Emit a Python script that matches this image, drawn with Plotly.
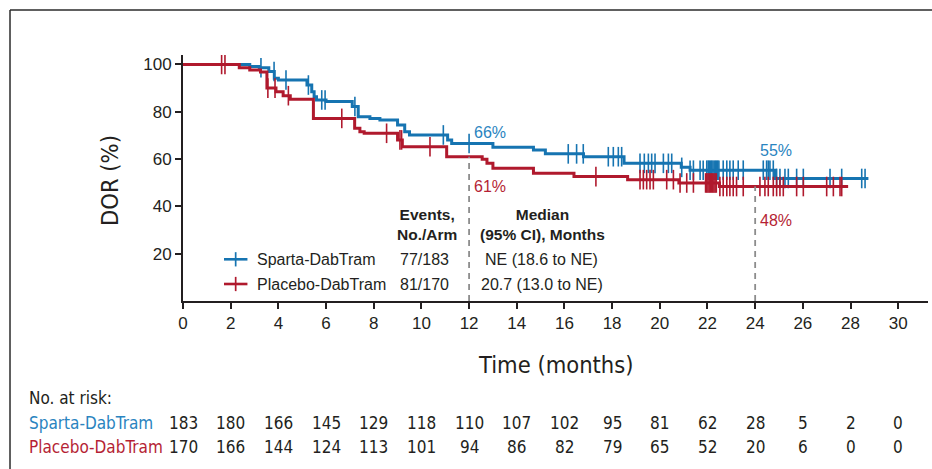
import plotly.graph_objects as go

# ---------------- data ----------------
BLUE_T = [0, 2.8, 3.2, 3.6, 3.83, 4.0, 5.2, 5.4, 5.5, 5.6, 6.0, 7.1, 7.35, 7.84, 8.26,
          9.0, 9.3, 9.5, 11.1, 11.27, 13.0, 14.7, 15.2, 16.8, 18.5, 20.9, 21.27, 24.85]
BLUE_S = [100, 99.1, 98.6, 97.0, 94.2, 93.4, 91.3, 88.5, 86.4, 85.0, 84.3, 82.2, 77.9, 77.2, 76.5,
          74.4, 71.6, 70.2, 68.1, 66.6, 65.0, 63.8, 62.2, 61.0, 58.2, 56.5, 55.3, 51.8]
BLUE_END = 28.75

RED_T = [0, 2.36, 2.8, 3.25, 3.52, 3.9, 4.2, 4.5, 5.47, 7.2, 7.42, 7.6, 9.0, 9.2, 11.06,
         12.55, 12.75, 13.0, 14.7, 16.4, 18.65, 20.8, 22.5]
RED_S = [100, 98.6, 97.7, 96.8, 90.0, 88.5, 86.8, 85.3, 77.2, 73.0, 71.6, 70.9, 68.1, 65.2, 61.0,
         59.9, 58.2, 56.1, 54.0, 52.6, 51.3, 49.9, 48.4]
RED_END = 27.9

BLUE_CENSOR = [3.27, 3.82, 4.32, 5.26, 5.82, 5.96, 7.21, 10.92, 12.0, 16.16, 16.51, 16.79, 17.84,
               18.05, 18.26, 18.40, 19.17, 19.35, 19.52, 19.66, 19.80, 20.15, 20.36, 20.50, 20.92,
               21.27, 21.41, 21.69, 21.82, 21.97, 22.03, 22.08, 22.13, 22.18, 22.23, 22.28, 22.33,
               22.38, 22.43, 22.48, 22.66, 22.81, 22.94, 23.08, 23.29, 23.50, 24.34, 24.48, 24.55,
               24.62, 24.76, 24.90, 25.04, 25.25, 25.39, 25.74, 26.02, 27.14, 27.63, 28.47, 28.61]
RED_CENSOR = [1.62, 1.76, 3.56, 3.86, 4.42, 6.66, 8.54, 9.10, 9.17, 10.36, 17.32, 19.17, 19.31,
              19.45, 19.59, 19.73, 20.29, 20.57, 20.85, 21.13, 21.41, 21.92, 21.97, 22.02, 22.07,
              22.12, 22.17, 22.22, 22.27, 22.32, 22.37, 22.52, 22.66, 22.81, 22.94, 23.08, 23.22,
              23.50, 24.20, 24.41, 24.55, 24.76, 24.90, 25.04, 25.18, 25.74, 26.02, 27.0, 27.28,
              27.56, 27.63]

ARMS = ["Sparta-DabTram", "Placebo-DabTram"]
EVENTS = ["77/183", "81/170"]
MEDIANS = ["NE (18.6 to NE)", "20.7 (13.0 to NE)"]
LANDMARKS = [12, 24]

RISK_TIMES = list(range(0, 31, 2))
RISK_BLUE = [183, 180, 166, 145, 129, 118, 110, 107, 102, 95, 81, 62, 28, 5, 2, 0]
RISK_RED = [170, 166, 144, 124, 113, 101, 94, 86, 82, 79, 65, 52, 20, 6, 0, 0]

X_TICKS = list(range(0, 31, 2))
Y_TICKS = [20, 40, 60, 80, 100]

# ---------------- style ----------------
BLUE = "#1674b1"
RED = "#b0192d"
BLUE_TXT = "#2a84c0"
RED_TXT = "#b51f35"
DARK = "#231f20"
GRAY = "#8c8c8c"
FONT = "Liberation Sans, Arial, Helvetica, sans-serif"
NARROW = "Liberation Sans Narrow, Arial Narrow, DejaVu Sans Condensed, sans-serif"


def step_at(ts, ss, t):
    v = ss[0]
    for ti, si in zip(ts, ss):
        if t >= ti:
            v = si
    return v


fig = go.Figure()

for ts, ss, end, cens, col in [(BLUE_T, BLUE_S, BLUE_END, BLUE_CENSOR, BLUE),
                               (RED_T, RED_S, RED_END, RED_CENSOR, RED)]:
    fig.add_trace(go.Scatter(x=ts + [end], y=ss + [ss[-1]], mode="lines",
                             line=dict(color=col, width=3, shape="hv"),
                             hoverinfo="skip"))
    fig.add_trace(go.Scatter(x=cens, y=[step_at(ts, ss, c) for c in cens], mode="markers",
                             marker=dict(symbol="line-ns", size=14,
                                         line=dict(color=col, width=1.6)),
                             hoverinfo="skip"))

# landmark dashed lines (from the lower curve down to the axis)
for lm in LANDMARKS:
    top = min(step_at(BLUE_T, BLUE_S, lm), step_at(RED_T, RED_S, lm))
    fig.add_trace(go.Scatter(x=[lm, lm], y=[0, top], mode="lines",
                             line=dict(color=GRAY, width=1.8, dash="6px,5px"),
                             hoverinfo="skip"))

annotations = []
# landmark percentage labels
for lm, bdy, rdy in [(12, 4.5, -12.5), (24, 8.5, -14.5)]:
    b = step_at(BLUE_T, BLUE_S, lm)
    r = step_at(RED_T, RED_S, lm)
    annotations.append(dict(x=lm + 0.12, y=b + bdy, xref="x", yref="y", text=f"{int(b)}%",
                            showarrow=False, xanchor="left", yanchor="middle",
                            font=dict(family=FONT, size=16, color=BLUE_TXT)))
    annotations.append(dict(x=lm + 0.12, y=r + rdy, xref="x", yref="y", text=f"{int(r)}%",
                            showarrow=False, xanchor="left", yanchor="middle",
                            font=dict(family=FONT, size=16, color=RED_TXT)))

# in-plot legend table
annotations.append(dict(x=0.327, y=0.313, xref="paper", yref="paper",
                        text="<b>Events,</b><br><b>No./Arm</b>", showarrow=False,
                        xanchor="center", yanchor="middle", align="center",
                        font=dict(family=FONT, size=15.5, color=DARK)))
annotations.append(dict(x=0.482, y=0.313, xref="paper", yref="paper",
                        text="<b>Median</b><br><b>(95% CI), Months</b>", showarrow=False,
                        xanchor="center", yanchor="middle", align="center",
                        font=dict(family=FONT, size=15.5, color=DARK)))
shapes = []
row_y = [0.1695, 0.0691]
for arm, ev, med, yy, col in zip(ARMS, EVENTS, MEDIANS, row_y, [BLUE, RED]):
    annotations.append(dict(x=0.0966, y=yy, xref="paper", yref="paper", text=arm,
                            showarrow=False, xanchor="left", yanchor="middle",
                            font=dict(family=FONT, size=16, color=DARK)))
    annotations.append(dict(x=0.3248, y=yy, xref="paper", yref="paper", text=ev,
                            showarrow=False, xanchor="center", yanchor="middle",
                            font=dict(family=FONT, size=16, color=DARK)))
    annotations.append(dict(x=0.4815, y=yy, xref="paper", yref="paper", text=med,
                            showarrow=False, xanchor="center", yanchor="middle",
                            font=dict(family=FONT, size=16, color=DARK)))
    shapes.append(dict(type="line", xref="paper", yref="paper", x0=0.055, x1=0.0865,
                       y0=yy, y1=yy, line=dict(color=col, width=2.6)))
    shapes.append(dict(type="line", xref="paper", yref="paper", x0=0.0707, x1=0.0707,
                       y0=yy - 0.029, y1=yy + 0.029, line=dict(color=col, width=1.7)))

# axis titles
annotations.append(dict(x=0.5, y=-0.262, xref="paper", yref="paper", text="Time (months)",
                        showarrow=False, xanchor="center", yanchor="middle",
                        font=dict(family=NARROW, size=23.5, color=DARK)))
annotations.append(dict(x=-0.098, y=0.492, xref="paper", yref="paper", text="DOR (%)",
                        showarrow=False, xanchor="center", yanchor="middle", textangle=-90,
                        font=dict(family=NARROW, size=23.5, color=DARK)))

# risk table
annotations.append(dict(x=-0.2094, y=-0.394, xref="paper", yref="paper", text="No. at risk:",
                        showarrow=False, xanchor="left", yanchor="middle",
                        font=dict(family=NARROW, size=17, color=DARK)))
for arm, vals, yy, col in [(ARMS[0], RISK_BLUE, -0.4947, BLUE_TXT),
                           (ARMS[1], RISK_RED, -0.5947, RED_TXT)]:
    annotations.append(dict(x=-0.2094, y=yy, xref="paper", yref="paper", text=arm,
                            showarrow=False, xanchor="left", yanchor="middle",
                            font=dict(family=NARROW, size=17, color=col)))
    for t, v in zip(RISK_TIMES, vals):
        annotations.append(dict(x=t, y=yy, xref="x", yref="paper", text=str(v),
                                showarrow=False, xanchor="center", yanchor="middle",
                                font=dict(family=NARROW, size=17, color=DARK)))

# outer frame (top and left)
shapes.append(dict(type="line", xref="paper", yref="paper", x0=-0.2322, x1=1.1,
                   y0=1.183, y1=1.183, line=dict(color="#2b2b2b", width=1.5)))
shapes.append(dict(type="line", xref="paper", yref="paper", x0=-0.2322, x1=-0.2322,
                   y0=1.183, y1=-0.75, line=dict(color="#2b2b2b", width=1.5)))

axis_common = dict(showgrid=False, zeroline=False, showline=True, linecolor=DARK, linewidth=2,
                   ticks="outside", ticklen=6, tickwidth=1.5, tickcolor=DARK,
                   tickfont=dict(family=FONT, size=17, color=DARK), fixedrange=True)

fig.update_layout(
    width=932, height=469,
    margin=dict(l=183, r=4, t=55, b=168),
    paper_bgcolor="white", plot_bgcolor="white",
    showlegend=False,
    xaxis=dict(range=[0, 31.25], tickvals=X_TICKS, ticktext=[str(v) for v in X_TICKS],
               **axis_common),
    yaxis=dict(range=[0, 104], tickvals=Y_TICKS, ticktext=[str(v) for v in Y_TICKS],
               **axis_common),
    annotations=annotations,
    shapes=shapes,
)

fig.write_html("out.html")
